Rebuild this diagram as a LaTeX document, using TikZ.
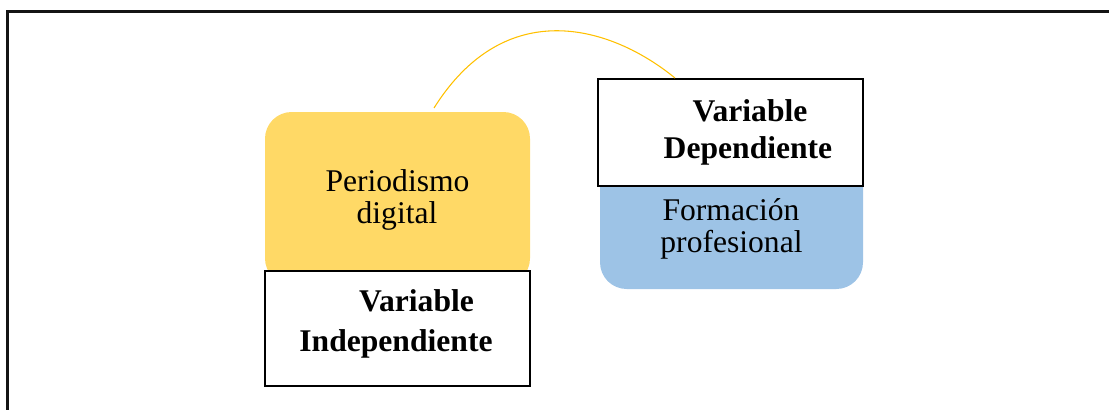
\documentclass[tikz,border=0pt]{standalone}
\usepackage{fontspec}
\setmainfont{Liberation Serif}
\definecolor{goldfill}{RGB}{255,217,102}
\definecolor{bluefill}{RGB}{157,195,230}
\definecolor{arccol}{RGB}{255,192,0}
\begin{document}
\begin{tikzpicture}[x=0.75pt,y=-0.75pt,
  lbl/.style={inner sep=0pt,anchor=base,font=\fontsize{23.7pt}{28pt}\selectfont},
  blbl/.style={inner sep=0pt,anchor=base,font=\fontsize{23.7pt}{28pt}\selectfont\bfseries},
  whitebox/.style={draw=black,line width=1.6pt,fill=white,inner sep=0pt,
    minimum width=198.75pt},
  softbox/.style={draw=none,rounded corners=20pt,inner sep=0pt},
  frameline/.style={draw=black!92,line width=2.25pt},
  arcline/.style={draw=arccol,line width=0.8pt}]
\useasboundingbox (0,0) rectangle (1109,410);
% outer frame
\coordinate (fbl) at (7,410);
\coordinate (ftl) at (7,11.5);
\coordinate (ftr) at (1109,11.5);
\draw[frameline] (fbl) -- (ftl) -- (ftr);
% left group
\node[softbox,fill=goldfill,minimum width=198.75pt,minimum height=129.75pt] (pd) at (397.5,198.5) {};
\node[whitebox,minimum height=86.25pt] (vi) at (397.5,328.5) {};
% right group
\node[softbox,fill=bluefill,minimum width=197.25pt,minimum height=104.25pt] (fp) at (731.5,219.5) {};
\node[whitebox,minimum height=80.25pt] (vd) at (730.5,132.5) {};
% labels
\node[lbl] (pd1) at (397.5,191.7) {Periodismo};
\node[lbl] (pd2) at (397,223) {digital};
\node[blbl] (vi1) at (416.5,311.7) {Variable};
\node[blbl] (vi2) at (396,351.7) {Independiente};
\node[blbl] (vd1) at (750,121.7) {Variable};
\node[blbl] (vd2) at (748,158.3) {Dependiente};
\node[lbl] (fp1) at (731,220) {Formación};
\node[lbl] (fp2) at (731.5,252.7) {profesional};
% connector arc
\coordinate (a1) at (434,108);
\coordinate (a2) at (675,78);
\draw[arcline] (a1) .. controls (505,-5) and (610,25) .. (a2);
\end{tikzpicture}
\end{document}
